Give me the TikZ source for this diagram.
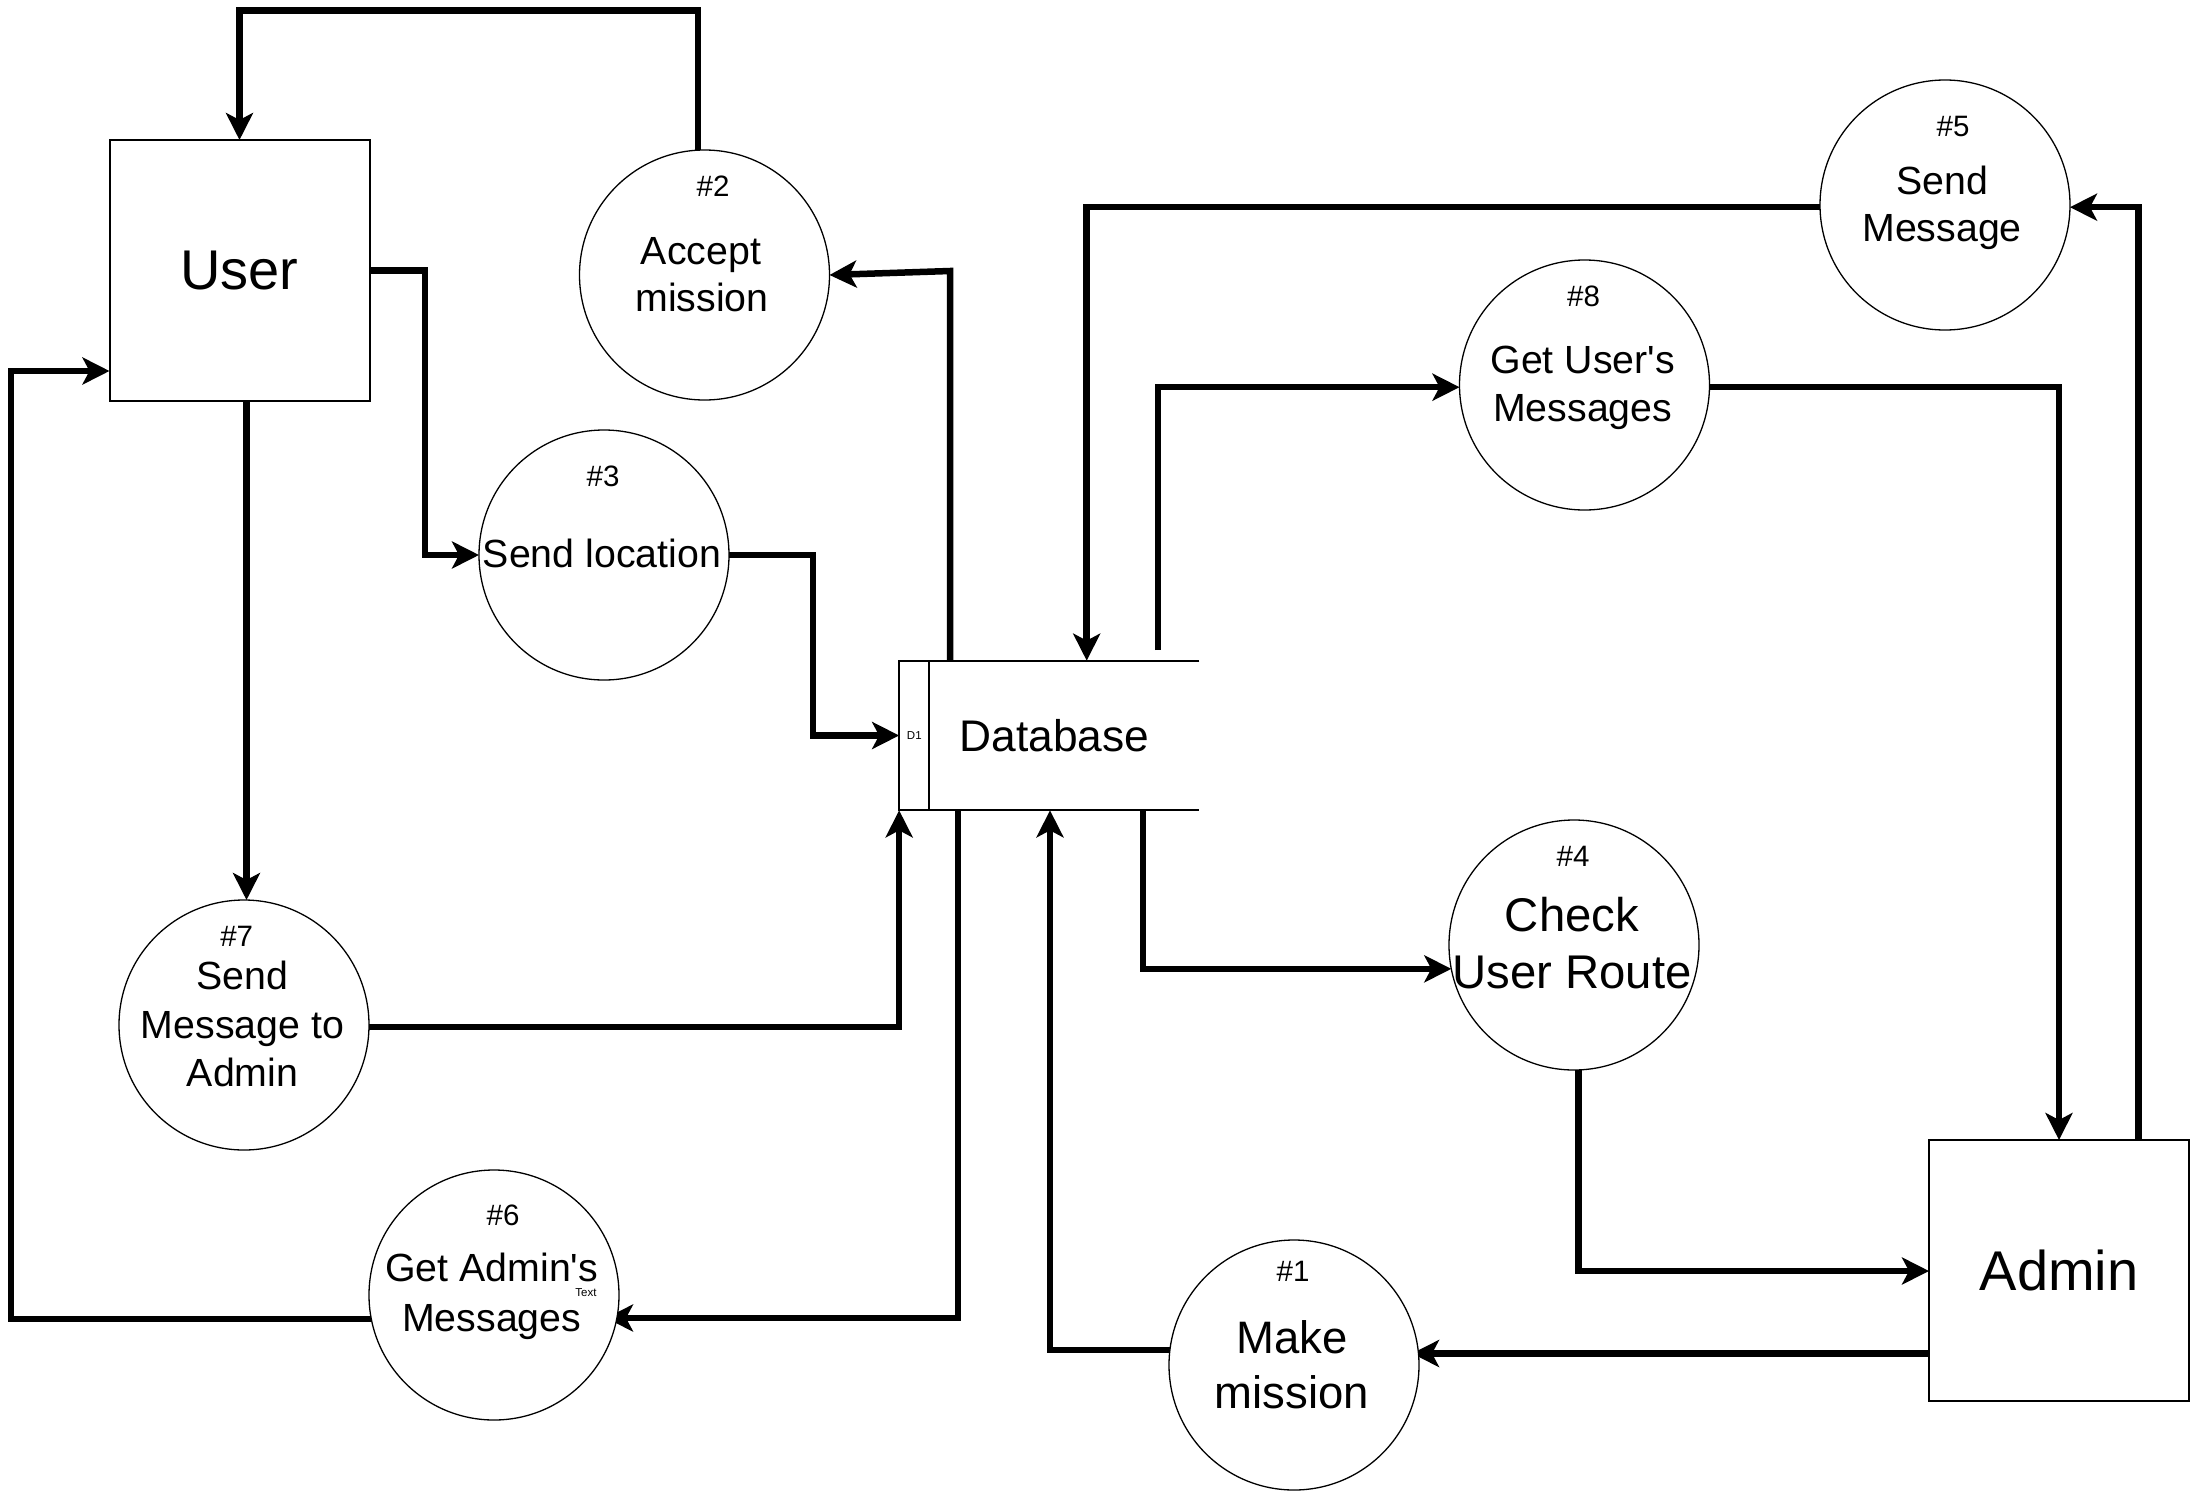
\documentclass[tikz,border=0pt]{standalone}
\usepackage{fontspec}
\setmainfont{Liberation Sans}[Ligatures=TeXOff]
\usetikzlibrary{arrows.meta}
\pgfdeclarelayer{bg}
\pgfsetlayers{bg,main}
\begin{document}
\begin{tikzpicture}[x=1pt,y=-1pt,
  proc/.style={circle,draw,line width=1.3pt,fill=white,minimum size=250pt,inner sep=0pt,outer sep=0pt},
  ent/.style={rectangle,draw,line width=2pt,fill=white,minimum width=260pt,minimum height=261pt,inner sep=0pt,outer sep=0pt,font=\fontsize{56}{66}\selectfont},
  ct/.style={anchor=base,inner sep=0pt,font=\fontsize{39.3}{46}\selectfont},
  cbig/.style={anchor=base,inner sep=0pt,font=\fontsize{47.3}{55}\selectfont},
  hn/.style={anchor=base,inner sep=0pt,font=\fontsize{29.5}{35}\selectfont},
  tinytxt/.style={anchor=base,inner sep=0pt,font=\fontsize{11.5}{14}\selectfont},
  flow/.style={line width=6.5pt,-{Stealth[length=27pt,width=27pt,inset=7pt]}}]
\useasboundingbox (0,0) rectangle (2190,1491);
% entities
\node[ent] (user) at (239.5,270.5) {User};
\node[ent] (adm) at (2059,1270.5) {Admin};
% processes
\node[proc] (p1) at (1294,1365) {};
\node[proc] (p2) at (704.5,275) {};
\node[proc] (p3) at (604,555) {};
\node[proc] (p4) at (1574,945) {};
\node[proc] (p5) at (1945,205) {};
\node[proc] (p6) at (494,1295) {};
\node[proc] (p7) at (244,1025) {};
\node[proc] (p8) at (1584.5,385) {};
% data store
\node[minimum width=300.3pt,minimum height=149.7pt,inner sep=0pt,outer sep=0pt] (db) at (1049.3,735.5) {};
\draw[line width=2pt] (db.north east) -- (db.north west) -- (db.south west) -- (db.south east);
\node[draw,line width=2pt,minimum width=30.3pt,minimum height=149.7pt,inner sep=0pt,outer sep=0pt,anchor=west,font=\fontsize{11.5}{14}\selectfont] (dbid) at (db.west) {D1};
\node[anchor=base,inner sep=0pt,font=\fontsize{44.3}{52}\selectfont] (dbl) at (1054.5,751) {Database};
% process texts
\node[hn] (p2n) at (713,196.7) {\#2};
\node[ct] (p2a) at (701,264.3) {Accept};
\node[ct] (p2b) at (702,311.7) {mission};
\node[hn] (p3n) at (603,486.7) {\#3};
\node[ct] (p3a) at (602,567.3) {Send location};
\node[hn] (p7n) at (236.7,946.7) {\#7};
\node[ct] (p7a) at (242.5,989.3) {Send};
\node[ct] (p7b) at (242.5,1038.3) {Message to};
\node[ct] (p7c) at (242.5,1086.7) {Admin};
\node[hn] (p6n) at (503,1225) {\#6};
\node[ct] (p6a) at (491.7,1281.7) {Get Admin's};
\node[ct] (p6b) at (491.7,1331.7) {Messages};
\node[tinytxt] (p6t) at (586,1296.7) {Text};
\node[hn] (p1n) at (1293,1281.7) {\#1};
\node[cbig,font=\fontsize{45.5}{55}\selectfont] (p1a) at (1292,1353.3) {Make};
\node[cbig,font=\fontsize{45.5}{55}\selectfont] (p1b) at (1292,1408.3) {mission};
\node[hn] (p4n) at (1573,866.7) {\#4};
\node[cbig] (p4a) at (1572,931.7) {Check};
\node[cbig] (p4b) at (1572,988.3) {User Route};
\node[hn] (p8n) at (1583.5,306.7) {\#8};
\node[ct] (p8a) at (1582.7,373.3) {Get User's};
\node[ct] (p8b) at (1582.7,421.7) {Messages};
\node[hn] (p5n) at (1953,136.7) {\#5};
\node[ct] (p5a) at (1942,194) {Send};
\node[ct] (p5b) at (1942,241.7) {Message};
% flows
\begin{pgfonlayer}{bg}
\coordinate (k1) at (450,10.7);
\draw[flow] (p2.93) |- (k1) -| (user.north);
\coordinate (k2) at (425,400);
\draw[flow] (user.east) -| (k2) |- (p3.west);
\coordinate (k3) at (813,650);
\draw[flow] (p3.east) -| (k3) |- (db.west);
\coordinate (k4) at (950,271);
\draw[flow] (db.north -| k4) -- (k4) -- (p2.east);
\coordinate (k5) at (246.5,0);
\draw[flow] (user.south -| k5) -- (p7.north -| k5);
\draw[flow] (p7.-1) -| (db.south west);
\coordinate (k7) at (958,0);
\coordinate (p6tip) at (606,1318);
\draw[flow] (db.south -| k7) |- (p6tip);
\coordinate (k8) at (11,371);
\draw[flow] (p6.191) -| (k8) -- (user.west |- k8);
\coordinate (k9) at (1412,1353.5);
\draw[flow] (adm.west |- k9) -- (k9);
\coordinate (k10) at (1050,0);
\draw[flow] (p1.173) -| (db.south -| k10);
\coordinate (k11) at (1143,0);
\draw[flow] (db.south -| k11) |- (p4.191);
\coordinate (k12) at (0,1271);
\draw[flow] (p4.272) |- (adm.west |- k12);
\coordinate (s13) at (1158,650);
\draw[flow] (s13) |- (p8.181);
\draw[flow] (p8.-1) -| (adm.north);
\coordinate (k15) at (2138.5,0);
\draw[flow] (adm.north -| k15) |- (p5.-1);
\coordinate (k16) at (1086.7,0);
\draw[flow] (p5.181) -| (db.north -| k16);
\end{pgfonlayer}
\end{tikzpicture}
\end{document}
